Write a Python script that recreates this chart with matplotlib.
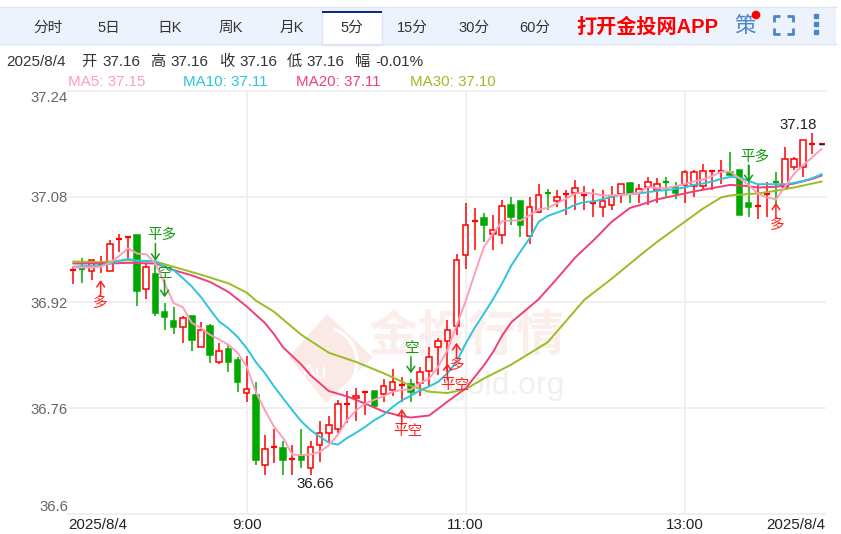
import matplotlib
matplotlib.use('Agg')
import matplotlib.pyplot as plt
from matplotlib.patches import Rectangle, Polygon, Circle, Arc

plt.rcParams['font.family'] = ['Liberation Sans', 'Noto Sans CJK SC', 'DejaVu Sans']

W, H = 841, 534

opens = [36.967, 36.971, 36.967, 36.978, 36.968, 37.012, 37.016, 37.022, 36.940, 36.963,
         36.905, 36.892, 36.883, 36.900, 36.853, 36.884, 36.830, 36.850, 36.833, 36.783,
         36.780, 36.674, 36.698, 36.700, 36.681, 36.688, 36.669, 36.704, 36.722, 36.728,
         36.765, 36.775, 36.783, 36.786, 36.781, 36.788, 36.793, 36.797, 36.798, 36.817,
         36.852, 36.862, 36.884, 36.992, 37.040, 37.048, 37.023, 37.022, 37.067, 37.073,
         37.021, 37.057, 37.085, 37.074, 37.081, 37.086, 37.078, 37.068, 37.065, 37.068,
         37.084, 37.101, 37.086, 37.094, 37.090, 37.102, 37.095, 37.098, 37.096, 37.096,
         37.118, 37.118, 37.118, 37.120, 37.071, 37.065, 37.083, 37.102, 37.094, 37.125,
         37.125, 37.157, 37.160]
closes = [36.969, 36.967, 36.984, 36.979, 37.008, 37.016, 37.019, 36.938, 36.973, 36.904,
          36.898, 36.883, 36.897, 36.863, 36.878, 36.841, 36.846, 36.830, 36.800, 36.789,
          36.681, 36.698, 36.702, 36.681, 36.683, 36.682, 36.702, 36.723, 36.734, 36.766,
          36.766, 36.779, 36.785, 36.764, 36.793, 36.799, 36.795, 36.785, 36.815, 36.838,
          36.861, 36.878, 36.984, 37.038, 37.043, 37.037, 37.029, 37.066, 37.050, 37.037,
          37.064, 37.082, 37.083, 37.080, 37.084, 37.093, 37.082, 37.071, 37.074, 37.079,
          37.099, 37.084, 37.092, 37.102, 37.099, 37.098, 37.086, 37.117, 37.117, 37.119,
          37.119, 37.119, 37.113, 37.052, 37.065, 37.066, 37.084, 37.100, 37.137, 37.137,
          37.166, 37.160, 37.160]
highs = [36.974, 36.987, 36.985, 36.990, 37.015, 37.024, 37.020, 37.022, 36.979, 36.977,
         36.919, 36.913, 36.899, 36.900, 36.891, 36.888, 36.859, 36.856, 36.837, 36.839,
         36.799, 36.719, 36.729, 36.711, 36.704, 36.729, 36.711, 36.741, 36.749, 36.773,
         36.786, 36.790, 36.786, 36.786, 36.805, 36.819, 36.808, 36.804, 36.822, 36.852,
         36.866, 36.893, 36.993, 37.070, 37.063, 37.055, 37.053, 37.075, 37.079, 37.073,
         37.080, 37.099, 37.092, 37.090, 37.090, 37.105, 37.097, 37.092, 37.090, 37.096,
         37.099, 37.101, 37.099, 37.110, 37.108, 37.110, 37.103, 37.120, 37.121, 37.130,
         37.121, 37.135, 37.148, 37.120, 37.128, 37.098, 37.103, 37.117, 37.156, 37.140,
         37.166, 37.176, 37.160]
lows = [36.948, 36.950, 36.954, 36.964, 36.968, 36.997, 36.987, 36.915, 36.926, 36.900,
        36.879, 36.872, 36.859, 36.846, 36.853, 36.829, 36.827, 36.815, 36.785, 36.769,
        36.674, 36.659, 36.677, 36.659, 36.659, 36.669, 36.659, 36.679, 36.708, 36.723,
        36.737, 36.740, 36.750, 36.760, 36.770, 36.779, 36.770, 36.769, 36.779, 36.793,
        36.810, 36.815, 36.871, 36.970, 36.999, 37.012, 36.999, 37.008, 37.038, 37.019,
        37.009, 37.055, 37.060, 37.065, 37.052, 37.060, 37.060, 37.049, 37.049, 37.060,
        37.070, 37.070, 37.070, 37.067, 37.070, 37.079, 37.077, 37.070, 37.079, 37.090,
        37.090, 37.099, 37.113, 37.052, 37.050, 37.047, 37.050, 37.067, 37.090, 37.120,
        37.110, 37.145, 37.160]

ma5 = [36.973, 36.973, 36.973, 36.974, 36.980, 36.990, 37.002, 36.994, 36.993, 36.979,
       36.949, 36.919, 36.913, 36.889, 36.881, 36.871, 36.864, 36.856, 36.844, 36.823,
       36.785, 36.757, 36.732, 36.715, 36.690, 36.689, 36.690, 36.694, 36.704, 36.720,
       36.742, 36.757, 36.767, 36.773, 36.778, 36.785, 36.788, 36.788, 36.798, 36.805,
       36.823, 36.848, 36.885, 36.922, 36.964, 37.004, 37.024, 37.043, 37.044, 37.044,
       37.052, 37.061, 37.063, 37.070, 37.077, 37.085, 37.086, 37.085, 37.082, 37.082,
       37.083, 37.084, 37.086, 37.095, 37.093, 37.093, 37.096, 37.099, 37.103, 37.106,
       37.111, 37.118, 37.118, 37.108, 37.098, 37.085, 37.079, 37.076, 37.095, 37.115,
       37.128, 37.140, 37.152]
ma10 = [36.974, 36.975, 36.975, 36.976, 36.979, 36.983, 36.986, 36.983, 36.983, 36.982,
        36.974, 36.969, 36.957, 36.944, 36.928, 36.909, 36.891, 36.881, 36.868, 36.851,
        36.830, 36.813, 36.793, 36.775, 36.757, 36.740, 36.727, 36.717, 36.708, 36.705,
        36.715, 36.723, 36.732, 36.742, 36.750, 36.762, 36.772, 36.779, 36.787, 36.793,
        36.800, 36.813, 36.830, 36.858, 36.882, 36.903, 36.925, 36.949, 36.976, 36.997,
        37.017, 37.042, 37.051, 37.056, 37.061, 37.068, 37.072, 37.073, 37.076, 37.080,
        37.083, 37.084, 37.085, 37.087, 37.089, 37.090, 37.092, 37.094, 37.098, 37.100,
        37.103, 37.107, 37.110, 37.109, 37.104, 37.099, 37.099, 37.099, 37.099, 37.101,
        37.104, 37.108, 37.114]
ma20_x = [0, 4, 6, 9, 11, 13, 15, 17, 19, 21, 22, 23, 25, 26, 28, 30, 32, 34, 36, 37, 39, 41, 43,
          45, 46, 47, 48, 51, 53, 55, 57, 59, 61, 62, 64, 66, 68, 70, 72, 74, 75, 77, 79, 81, 82]
ma20 = [36.979, 36.979, 36.980, 36.979, 36.969, 36.961, 36.951, 36.936, 36.914, 36.889, 36.872, 36.852,
        36.826, 36.810, 36.786, 36.778, 36.767, 36.755, 36.748, 36.746, 36.749, 36.770, 36.790,
        36.825, 36.845, 36.870, 36.890, 36.925, 36.956, 36.988, 37.014, 37.042, 37.063, 37.067,
        37.076, 37.082, 37.088, 37.093, 37.098, 37.096, 37.094, 37.095, 37.100, 37.107, 37.112]
ma30_x = [0, 3, 6, 9, 11, 14, 17, 19, 20, 22, 25, 28, 31, 34, 37, 39, 41, 43, 45, 48, 52, 56, 59, 62,
          64, 67, 69, 71, 72, 75, 77, 79, 81, 82]
ma30 = [36.982, 36.981, 36.984, 36.982, 36.974, 36.962, 36.949, 36.935, 36.923, 36.906, 36.871, 36.844,
        36.830, 36.813, 36.794, 36.785, 36.783, 36.789, 36.805, 36.826, 36.860, 36.924, 36.956, 36.990,
        37.012, 37.042, 37.062, 37.079, 37.082, 37.085, 37.089, 37.094, 37.100, 37.103]

y_ticks = [37.24, 37.08, 36.92, 36.76, 36.6]
y_labels = ['37.24', '37.08', '36.92', '36.76', '36.6']
x_grid = [19, 43, 67]
x_labels = ['9:00', '11:00', '13:00']

tabs = ['分时', '5日', '日K', '周K', '月K', '5分', '15分', '30分', '60分']
tab_pos = [48, 109, 170, 231, 292, 352, 412, 474, 535]
info = ['2025/8/4', '开', '37.16', '高', '37.16', '收', '37.16', '低', '37.16', '幅', '-0.01%']
info_pos = [6, 81, 102, 150, 170, 219, 239, 287, 306, 355, 375]
ma_names = ['MA5: 37.15', 'MA10: 37.11', 'MA20: 37.11', 'MA30: 37.10']
ma_pos = [68, 183, 296, 410]
ma_colors = ['#ff9dbb', '#2cc4de', '#f03f78', '#99bd24']

# (text, candle, arrow tail, arrow tip, colour)
signals = [('多', 3, 36.930, 36.954, '#ff2020'),
           ('平多', 9, 37.009, 36.983, '#129a12'),
           ('空', 10, 36.954, 36.928, '#129a12'),
           ('平空', 36, 36.735, 36.759, '#ff2020'),
           ('空', 37, 36.838, 36.813, '#129a12'),
           ('平空', 41, 36.803, 36.828, '#ff2020'),
           ('多', 42, 36.836, 36.859, '#ff2020'),
           ('平多', 74, 37.128, 37.102, '#129a12'),
           ('多', 77, 37.048, 37.071, '#ff2020')]
signal_text = [(100, 303), (162, 235), (165, 273), (408, 431), (412, 348), (455, 385), (457, 365), (755, 157), (777, 225)]


def candles(ax):
    for i in range(len(opens)):
        up = closes[i] >= opens[i]
        col = '#ff0000' if up else '#00a800'
        top = max(opens[i], closes[i])
        bot = min(opens[i], closes[i])
        ax.vlines(i, lows[i], highs[i], color=col, lw=1.1, zorder=3)
        if top - bot < 0.004:
            ax.hlines(top, i - 0.33, i + 0.33, color=col, lw=1.6, zorder=4)
        else:
            ax.add_patch(Rectangle((i - 0.31, bot), 0.62, top - bot, facecolor='white' if up else col,
                                   edgecolor=col, lw=1.1, zorder=4))


def page(fig):
    # everything outside the plot, in pixels
    bg = fig.add_axes([0, 0, 1, 1], zorder=0)
    bg.set_xlim(0, W)
    bg.set_ylim(H, 0)
    bg.axis('off')
    bg.add_patch(Rectangle((0, 6.5), 836, 37.5, facecolor='#edf3fd', edgecolor='none'))
    bg.plot([0, 836], [6.5, 6.5], color='#dde5f5', lw=1)
    bg.plot([0, 836], [44, 44], color='#dde5f5', lw=1)
    bg.add_patch(Rectangle((322.5, 11), 60, 33.5, facecolor='white', edgecolor='#dde5f5', lw=1))
    bg.add_patch(Rectangle((322.5, 11), 60, 1.8, facecolor='#0a2a8c', edgecolor='none'))
    for t, x in zip(tabs, tab_pos):
        bg.text(x, 28, t, fontsize=10.5, color='#333333', ha='center', va='center')
    bg.text(647.5, 27, '打开金投网APP', fontsize=14.5, color='#ff0000', ha='center', va='center', fontweight='bold')
    bg.text(745, 27, '策', fontsize=15.5, color='#4a86c8', ha='center', va='center')
    bg.add_patch(Circle((756, 15), 3.6, color='#ff0000', zorder=3))
    for cx, cy, dx, dy in [(774.5, 15.5, 1, 1), (793.5, 15.5, -1, 1), (774.5, 33.5, 1, -1), (793.5, 33.5, -1, -1)]:
        bg.plot([cx + 6 * dx, cx, cx], [cy, cy, cy + 6 * dy], color='#4a86c8', lw=2, solid_capstyle='butt')
    for y in [16, 24, 32]:
        bg.add_patch(Rectangle((814.5, y - 2), 4, 4, color='#4a86c8'))
    for t, x in zip(info, info_pos):
        bg.text(x, 62, t, fontsize=11, color='#333333', va='center')
    for name, x, col in zip(ma_names, ma_pos, ma_colors):
        bg.text(x, 82, name, fontsize=10.9, color=col, va='center')
    # cut off by the lower edge of the picture
    for name, x, col in [('MACD', 25, '#888888'), ('DIF: 0.00', 80, '#2cc4de'), ('DEA: 0.00', 195, '#d020c0'),
                         ('MACD: 0.00', 308, '#c01010')]:
        bg.text(x, 540, name, fontsize=10.4, color=col, va='center', clip_on=True)
    # watermark
    bg.add_patch(Polygon([[327, 314], [373, 357], [326, 403], [289, 357]], facecolor='#fbe9e5', edgecolor='none'))
    bg.add_patch(Arc((322, 362), 70, 70, theta1=-70, theta2=60, color='white', lw=2.5))
    bg.text(315, 372, 'Au', fontsize=15, color='white', ha='center', va='center')
    bg.text(467, 337, '金投行情', fontsize=35.5, color='#fceeea', ha='center', va='center', fontweight='bold')
    bg.text(565, 386, 'cngold.org', fontsize=23, color='#f0f0f0', ha='right', va='center')
    return bg


def main():
    fig = plt.figure(figsize=(W / 100, H / 100), dpi=100, facecolor='white')
    page(fig)

    ax = fig.add_axes([68 / W, 1 - 514 / H, 757 / W, 423 / H], zorder=2)
    ax.patch.set_alpha(0)
    ax.set_xlim(-0.58, 82.38)
    ax.set_ylim(36.6, 37.24)
    for s in ax.spines.values():
        s.set_visible(False)

    for p in y_ticks:
        ax.axhline(p, color='#f0f0f0', lw=1.4, zorder=1, clip_on=False)
    for i in x_grid:
        ax.axvline(i, color='#f0f0f0', lw=1.4, zorder=1)

    candles(ax)
    ax.plot(ma30_x, ma30, color=ma_colors[3], lw=1.4, zorder=5)
    ax.plot(ma20_x, ma20, color=ma_colors[2], lw=1.4, zorder=6)
    ax.plot(range(len(ma10)), ma10, color=ma_colors[1], lw=1.4, zorder=7)
    ax.plot(range(len(ma5)), ma5, color=ma_colors[0], lw=1.4, zorder=8)

    ax.set_yticks(y_ticks)
    ax.set_yticklabels(y_labels, fontsize=10.7, color='#666666')
    ax.get_yticklabels()[0].set_va('top')
    ax.get_yticklabels()[-1].set_va('bottom')
    ax.set_xticks([ax.get_xlim()[0]] + x_grid + [ax.get_xlim()[1]])
    ax.set_xticklabels(['2025/8/4'] + x_labels + ['2025/8/4'], fontsize=10.9, color='#222222')
    ax.get_xticklabels()[0].set_ha('left')
    ax.get_xticklabels()[-1].set_ha('right')
    ax.tick_params(length=0, pad=3)
    ax.tick_params(axis='y', pad=0)

    ax.annotate('37.18', (81, 37.176), xytext=(798, H - 125), xycoords='data', textcoords='figure pixels',
                fontsize=10.8, color='#222222', ha='center', va='center', zorder=10)
    ax.annotate('36.66', (26, 36.659), xytext=(315, H - 484), xycoords='data', textcoords='figure pixels',
                fontsize=10.8, color='#222222', ha='center', va='center', zorder=10)
    ax.hlines(closes[-1], 82 - 0.25, 82 + 0.3, color='#222222', lw=1, zorder=9)

    for (txt, i, tail, tip, col), (tx, ty) in zip(signals, signal_text):
        ax.annotate('', xy=(i, tip), xytext=(i, tail), zorder=9,
                    arrowprops=dict(arrowstyle='->,head_width=0.28,head_length=0.4', color=col, lw=1.1,
                                    shrinkA=0, shrinkB=0))
        ax.annotate(txt, (i, tip), xytext=(tx, H - ty), textcoords='figure pixels', fontsize=10.5, color=col,
                    ha='center', va='center', zorder=9)

    fig.savefig('out.png', dpi=100)
    plt.close()


if __name__ == '__main__':
    main()
